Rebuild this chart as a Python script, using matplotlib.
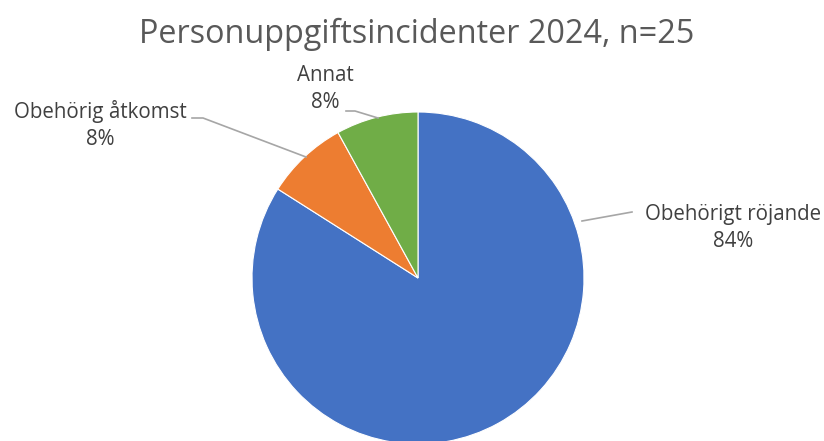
import matplotlib
matplotlib.use('Agg')
import matplotlib.pyplot as plt

categories = ['Obehörigt röjande', 'Obehörig åtkomst', 'Annat']
values = [84, 8, 8]
colors = ['#4472C4', '#ED7D31', '#70AD47']

W, H = 824, 441
fig = plt.figure(figsize=(W / 100, H / 100), dpi=100)
plt.rcParams['font.family'] = ['Open Sans', 'DejaVu Sans']

# pie centre (418, 278) px, radius 166 px
cx, cy, r = 418, 278, 166
ax = fig.add_axes([(cx - r) / W, (H - cy - r) / H, 2 * r / W, 2 * r / H])
ax.pie(values, colors=colors, startangle=90, counterclock=False,
       wedgeprops=dict(edgecolor='white', linewidth=0.8))
ax.set_xlim(-1, 1)
ax.set_ylim(-1, 1)
ax.set_aspect('auto')

fig.text(0.506, 1 - 34 / H, 'Personuppgiftsincidenter 2024, n=25',
         ha='center', va='center', fontsize=23.3, color='#595959')

# labels and leader lines in pixel coords on an overlay
ov = fig.add_axes([0, 0, 1, 1])
ov.set_xlim(0, W)
ov.set_ylim(H, 0)
ov.axis('off')
lab_color = '#404040'
lab_pos = [(733, 228), (100, 125), (325, 89)]
for (x, y), cat, v in zip(lab_pos, categories, values):
    ov.text(x, y, f'{cat}\n{v}%', ha='center', va='center', fontsize=14.8,
            color=lab_color, linespacing=1.35)
leaders = [([582, 632], [221, 212]),
           ([192, 203, 306], [118, 118, 157]),
           ([346, 355, 378], [111, 111, 118])]
for xs, ys in leaders:
    ov.plot(xs, ys, color='#A6A6A6', linewidth=1.2)

fig.savefig('out.png', dpi=100)
